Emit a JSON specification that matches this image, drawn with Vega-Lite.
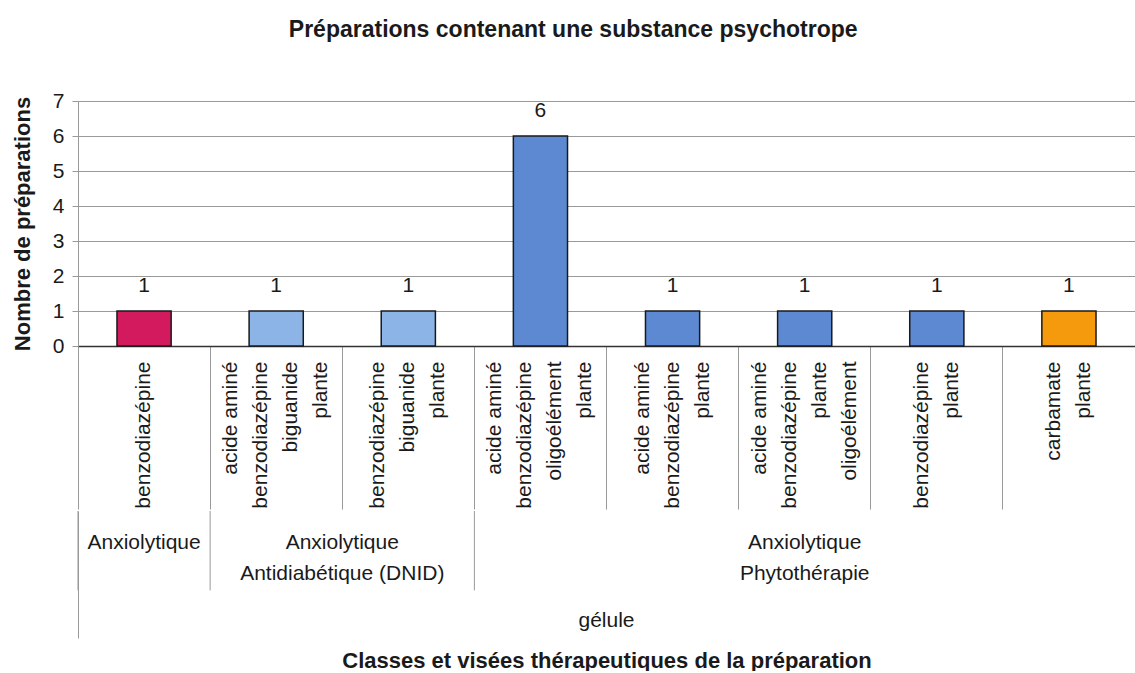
{
  "$schema": "https://vega.github.io/schema/vega-lite/v6.json",
  "padding": {"left": 11, "top": 19, "right": 0, "bottom": 0},
  "config": {"font": "Liberation Sans", "view": {"stroke": null}},
  "title": {"text": "Préparations contenant une substance psychotrope", "fontSize": 23, "fontWeight": "bold", "color": "#1a1a1a", "anchor": "middle", "offset": 48},
  "spacing": 0,
  "datasets": {
    "bars": [
      {"cat": "benzodiazépine", "groupe": "Anxiolytique", "serie": "Anxiolytique", "n": 1},
      {"cat": "acide aminé\nbenzodiazépine\nbiguanide\nplante", "groupe": "Anxiolytique Antidiabétique (DNID)", "serie": "Antidiabétique", "n": 1},
      {"cat": "benzodiazépine\nbiguanide\nplante", "groupe": "Anxiolytique Antidiabétique (DNID)", "serie": "Antidiabétique", "n": 1},
      {"cat": "acide aminé\nbenzodiazépine\noligoélément\nplante", "groupe": "Anxiolytique Phytothérapie", "serie": "Phytothérapie benzodiazépine", "n": 6},
      {"cat": "acide aminé\nbenzodiazépine\nplante", "groupe": "Anxiolytique Phytothérapie", "serie": "Phytothérapie benzodiazépine", "n": 1},
      {"cat": "acide aminé\nbenzodiazépine\nplante\noligoélément", "groupe": "Anxiolytique Phytothérapie", "serie": "Phytothérapie benzodiazépine", "n": 1},
      {"cat": "benzodiazépine\nplante", "groupe": "Anxiolytique Phytothérapie", "serie": "Phytothérapie benzodiazépine", "n": 1},
      {"cat": "carbamate\nplante", "groupe": "Anxiolytique Phytothérapie", "serie": "Phytothérapie carbamate", "n": 1}
    ],
    "groupes": [
      {"groupe": "Anxiolytique", "debut": 0, "fin": 1, "milieu": 0.5},
      {"groupe": "Anxiolytique\nAntidiabétique (DNID)", "debut": 1, "fin": 3, "milieu": 2},
      {"groupe": "Anxiolytique\nPhytothérapie", "debut": 3, "fin": 8, "milieu": 5.5}
    ],
    "formes": [
      {"forme": "gélule", "debut": 0, "fin": 8, "milieu": 4}
    ]
  },
  "vconcat": [
    {
      "width": 1057,
      "height": 245,
      "data": {"name": "bars"},
      "encoding": {
        "x": {
          "field": "cat", "type": "nominal", "sort": null,
          "scale": {"paddingInner": 0, "paddingOuter": 0},
          "axis": {
            "title": null, "labelAngle": 270,
            "labelExpr": "split(substring('\u2800|\u2800|\u2800|', 0, 2 * (4 - length(split(datum.label, '\\n')))) + join(split(datum.label, '\\n'), '|\u2800|'), '|')",
            "labelFontSize": 21, "labelLineHeight": 15, "labelColor": "#1a1a1a",
            "labelLimit": 0, "labelOverlap": false, "labelPadding": -148, "labelOffset": -45,
            "bandPosition": 0, "tickSize": 163, "tickColor": "#999999", "tickWidth": 1,
            "domainColor": "#333333", "domainWidth": 1.5, "grid": false
          }
        },
        "y": {
          "field": "n", "type": "quantitative",
          "scale": {"domain": [0, 7], "nice": false},
          "axis": {
            "title": "Nombre de préparations", "titleFontSize": 22, "titleFontWeight": "bold",
            "titleColor": "#1a1a1a", "titlePadding": 18,
            "values": [0, 1, 2, 3, 4, 5, 6, 7], "labelFontSize": 21, "labelColor": "#1a1a1a",
            "labelPadding": 8, "tickSize": 6, "tickColor": "#999999",
            "domainColor": "#999999", "gridColor": "#999999", "gridWidth": 1
          }
        }
      },
      "layer": [
        {
          "mark": {"type": "bar", "width": {"band": 0.41}, "stroke": "#1a1a1a", "strokeWidth": 1.5},
          "encoding": {
            "color": {
              "field": "serie", "type": "nominal", "legend": null,
              "scale": {
                "domain": ["Anxiolytique", "Antidiabétique", "Phytothérapie benzodiazépine", "Phytothérapie carbamate"],
                "range": ["#d31a5e", "#8cb4e6", "#5c89d1", "#f49a0c"]
              }
            }
          }
        },
        {
          "mark": {"type": "text", "dy": -25, "fontSize": 21, "color": "#1a1a1a"},
          "encoding": {"text": {"field": "n", "type": "quantitative"}}
        }
      ]
    },
    {
      "width": 1057,
      "height": 127,
      "encoding": {
        "x": {
          "type": "quantitative",
          "scale": {"domain": [0, 8], "nice": false, "zero": false},
          "axis": {
            "title": "Classes et visées thérapeutiques de la préparation",
            "titleFontSize": 22, "titleFontWeight": "bold", "titleColor": "#1a1a1a",
            "titlePadding": 12, "labels": false, "ticks": false, "domain": false, "grid": false
          }
        },
        "y": {
          "type": "quantitative",
          "scale": {"domain": [0, 1.6], "reverse": true, "nice": false, "zero": false},
          "axis": {"title": null, "labels": false, "ticks": false, "grid": false, "domain": true, "domainColor": "#999999"}
        }
      },
      "layer": [
        {
          "data": {"name": "groupes"},
          "mark": {"type": "rule", "color": "#999999", "strokeWidth": 1},
          "encoding": {
            "x": {"field": "debut", "type": "quantitative"},
            "y": {"datum": 0},
            "y2": {"datum": 1}
          }
        },
        {
          "data": {"name": "groupes"},
          "mark": {"type": "text", "fontSize": 21, "color": "#1a1a1a", "lineBreak": "\n", "lineHeight": 31, "dy": -8},
          "encoding": {
            "x": {"field": "milieu", "type": "quantitative"},
            "y": {"datum": 0.5},
            "text": {"field": "groupe", "type": "nominal"}
          }
        },
        {
          "data": {"name": "formes"},
          "mark": {"type": "text", "fontSize": 21, "color": "#1a1a1a"},
          "encoding": {
            "x": {"field": "milieu", "type": "quantitative"},
            "y": {"datum": 1.38},
            "text": {"field": "forme", "type": "nominal"}
          }
        }
      ]
    }
  ]
}
